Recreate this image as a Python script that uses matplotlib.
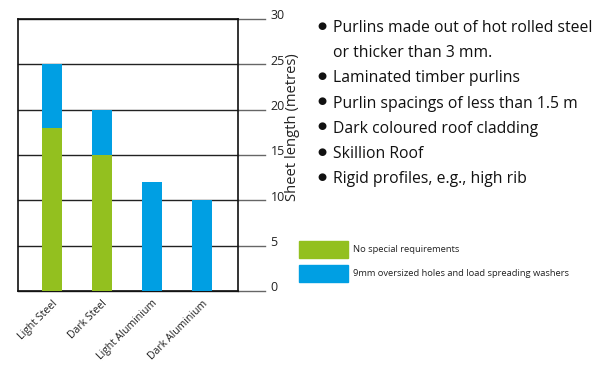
import matplotlib
matplotlib.use("Agg")
import matplotlib.pyplot as plt
from matplotlib.patches import Rectangle
import numpy as np

plt.rcParams['font.family'] = ['Open Sans', 'DejaVu Sans']

categories = ["Light Steel", "Dark Steel", "Light Aluminium", "Dark Aluminium"]
no_special = [18, 15, 0, 0]
oversized = [7, 5, 12, 10]
series_labels = ["No special requirements", "9mm oversized holes and load spreading washers"]
colors = ["#93C01F", "#009FE3"]
yticks = [0, 5, 10, 15, 20, 25, 30]
ylabel = "Sheet length (metres)"
bullets = ["Purlins made out of hot rolled steel\nor thicker than 3 mm.",
           "Laminated timber purlins",
           "Purlin spacings of less than 1.5 m",
           "Dark coloured roof cladding",
           "Skillion Roof",
           "Rigid profiles, e.g., high rib"]

W, H = 594, 365
fig = plt.figure(figsize=(W/100, H/100), dpi=100)
ax = fig.add_axes([18/W, 1-291/H, 220/W, 272/H])

x = np.arange(len(categories))
ax.bar(x, no_special, width=0.4, color=colors[0], zorder=3)
ax.bar(x, oversized, width=0.4, bottom=no_special, color=colors[1], zorder=3)
ax.set_xlim(-0.68, 3.72)
ax.set_ylim(0, 30)

ext = (265-18)/220
for t in yticks:
    ax.plot([0, 1], [t, t], transform=ax.get_yaxis_transform(), color='#222222', lw=1.0, zorder=2, clip_on=False)
    ax.plot([1, ext], [t, t], transform=ax.get_yaxis_transform(), color='#666666', lw=1.0, zorder=2, clip_on=False)
    ax.text(ext + 0.025, t + 0.35, str(t), transform=ax.get_yaxis_transform(), ha='left', va='center', fontsize=9, color='#222222')

ax.set_yticks([])
ax.set_xticks(x)
ax.set_xticklabels(categories, rotation=45, ha='right', rotation_mode='anchor', fontsize=7.6, color='#222222')
ax.tick_params(axis='x', length=0, pad=5)
for s in ax.spines.values():
    s.set_color('#111111')
    s.set_linewidth(1.2)

fig.text(292/W, 1-127/H, ylabel, rotation=90, ha='center', va='center', fontsize=10.6, color='#222222')

# bullet list
y = 26
for b in bullets:
    lines = b.split("\n")
    fig.text(322/W, 1-y/H, "\u25CF", ha='center', va='center', fontsize=7.5, color='#111111')
    for ln in lines:
        fig.text(333/W, 1-y/H, ln, ha='left', va='center_baseline', fontsize=11.3, color='#111111')
        y += 25.2

# legend
for i, (lab, c) in enumerate(zip(series_labels, colors)):
    y0 = 241 + i*24
    fig.add_artist(Rectangle((299/W, 1-(y0+17)/H), 49/W, 17/H, transform=fig.transFigure, color=c))
    fig.text(353/W, 1-(y0+8.5)/H, lab, ha='left', va='center', fontsize=6.75, color='#222222')

fig.savefig("out.png", dpi=100)
